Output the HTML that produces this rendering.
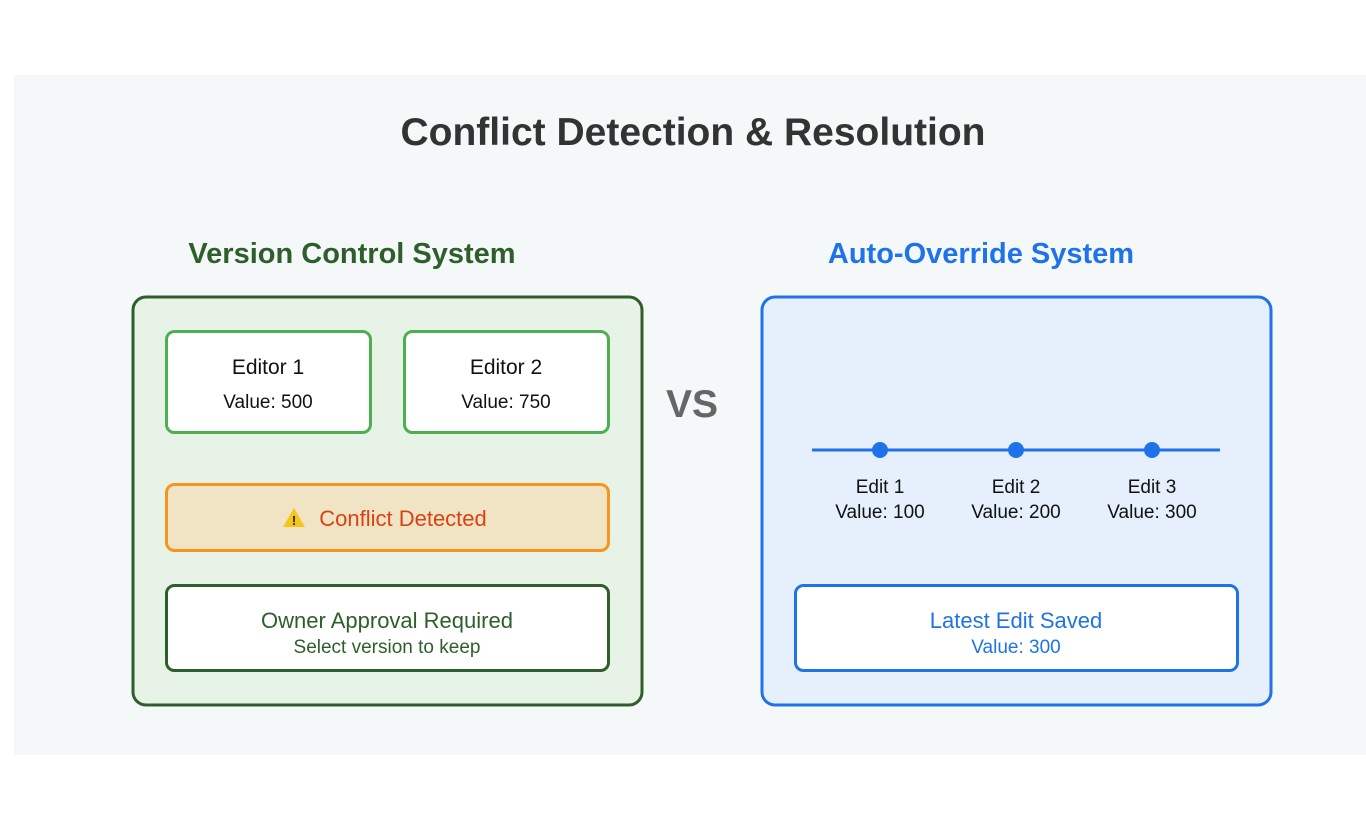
<!DOCTYPE html>
<html><head><meta charset="utf-8"><style>
html,body{margin:0;padding:0;background:#fff;}
svg{display:block;font-family:"Liberation Sans","DejaVu Sans",sans-serif;}
</style></head><body>
<svg width="1366" height="818" viewBox="0 0 1366 818">
<rect x="14" y="75" width="1352" height="680" fill="#f5f8f9"/>
<text x="693" y="145" text-anchor="middle" font-size="39" font-weight="bold" fill="#333">Conflict Detection &amp; Resolution</text>
<text x="352" y="263" text-anchor="middle" font-size="29" font-weight="bold" fill="#2e5e2a">Version Control System</text>
<text x="981" y="263" text-anchor="middle" font-size="29" font-weight="bold" fill="#1e73e8">Auto-Override System</text>
<text x="692" y="417" text-anchor="middle" font-size="39" font-weight="bold" fill="#666">VS</text>

<rect x="133" y="297" width="509" height="408" rx="13" fill="#e8f3e8" stroke="#2e5e2a" stroke-width="3"/>
<rect x="166.5" y="331.5" width="204" height="101" rx="8" fill="#fff" stroke="#4caf50" stroke-width="3"/>
<rect x="404.5" y="331.5" width="204" height="101" rx="8" fill="#fff" stroke="#4caf50" stroke-width="3"/>
<text x="268" y="374" text-anchor="middle" font-size="21" fill="#111">Editor 1</text>
<text x="268" y="408" text-anchor="middle" font-size="19" fill="#111">Value: 500</text>
<text x="506" y="374" text-anchor="middle" font-size="21" fill="#111">Editor 2</text>
<text x="506" y="408" text-anchor="middle" font-size="19" fill="#111">Value: 750</text>
<rect x="166.5" y="484.5" width="442" height="66" rx="8" fill="#f0e4c4" stroke="#f7941d" stroke-width="3"/>
<polygon points="294,508 283,527 305,527" fill="#f5c518"/>
<text x="294" y="525" text-anchor="middle" font-size="13" font-weight="bold" fill="#222">!</text>
<text x="403" y="526" text-anchor="middle" font-size="22" fill="#d84315">Conflict Detected</text>
<rect x="166.5" y="585.5" width="442" height="85" rx="8" fill="#fff" stroke="#2e5e2a" stroke-width="3"/>
<text x="387" y="628" text-anchor="middle" font-size="22" fill="#2e5e2a">Owner Approval Required</text>
<text x="387" y="653" text-anchor="middle" font-size="19" fill="#2e5e2a">Select version to keep</text>

<rect x="762" y="297" width="509" height="408" rx="13" fill="#e6f0fc" stroke="#1e73e8" stroke-width="3"/>
<line x1="812" y1="450" x2="1220" y2="450" stroke="#1e73e8" stroke-width="3"/>
<circle cx="880" cy="450" r="8" fill="#1e73e8"/>
<circle cx="1016" cy="450" r="8" fill="#1e73e8"/>
<circle cx="1152" cy="450" r="8" fill="#1e73e8"/>
<text x="880" y="493" text-anchor="middle" font-size="19" fill="#111">Edit 1</text>
<text x="880" y="518" text-anchor="middle" font-size="19" fill="#111">Value: 100</text>
<text x="1016" y="493" text-anchor="middle" font-size="19" fill="#111">Edit 2</text>
<text x="1016" y="518" text-anchor="middle" font-size="19" fill="#111">Value: 200</text>
<text x="1152" y="493" text-anchor="middle" font-size="19" fill="#111">Edit 3</text>
<text x="1152" y="518" text-anchor="middle" font-size="19" fill="#111">Value: 300</text>
<rect x="795.5" y="585.5" width="442" height="85" rx="8" fill="#fff" stroke="#1e73e8" stroke-width="3"/>
<text x="1016" y="628" text-anchor="middle" font-size="22" fill="#1e73e8">Latest Edit Saved</text>
<text x="1016" y="653" text-anchor="middle" font-size="19" fill="#1e73e8">Value: 300</text>
</svg>
</body></html>
